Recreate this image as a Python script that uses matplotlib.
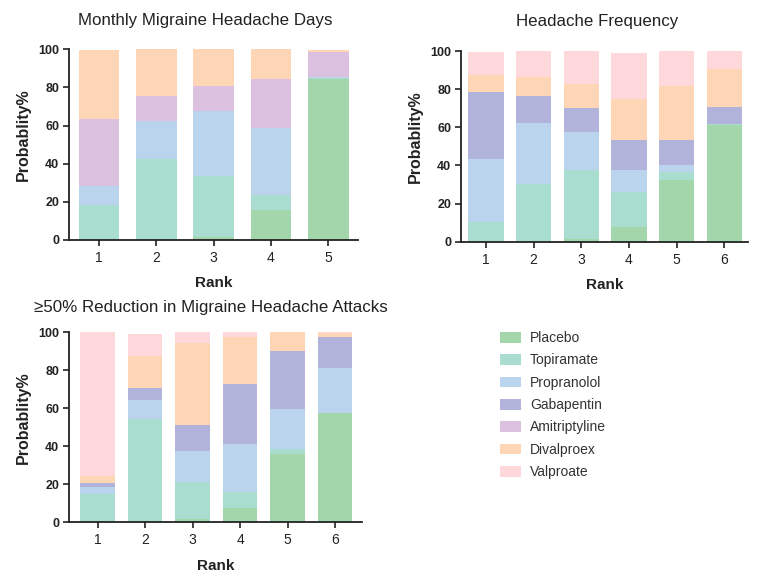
import matplotlib
matplotlib.use("Agg")
import matplotlib.pyplot as plt
from matplotlib.patches import Patch

plt.rcParams['font.family'] = ['Liberation Sans', 'DejaVu Sans']

drugs = ["Placebo", "Topiramate", "Propranolol", "Gabapentin",
         "Amitriptyline", "Divalproex", "Valproate"]
colors = {
    "Placebo": "#a3d6aa",
    "Topiramate": "#a9ddd0",
    "Propranolol": "#bad4ee",
    "Gabapentin": "#b1b3db",
    "Amitriptyline": "#dbc0e0",
    "Divalproex": "#fed6b6",
    "Valproate": "#fed8da",
}

# Monthly Migraine Headache Days (ranks 1-5)
mmd_ranks = [1, 2, 3, 4, 5]
mmd_placebo = [0, 0, 1.5, 15.5, 84.5]
mmd_topiramate = [18.5, 42.5, 32, 8, 0.5]
mmd_propranolol = [10, 20, 34, 35, 0.5]
mmd_amitriptyline = [35, 13, 13, 26, 13]
mmd_divalproex = [36, 24.5, 19.5, 15.5, 1]

# Headache Frequency (ranks 1-6)
hf_ranks = [1, 2, 3, 4, 5, 6]
hf_placebo = [0, 0, 1.2, 7.5, 32.3, 61.2]
hf_topiramate = [10.5, 30.2, 36.4, 18.7, 4.4, 0.5]
hf_propranolol = [32.9, 32.2, 19.7, 11.4, 3.5, 0.2]
hf_gabapentin = [34.9, 14.0, 13.0, 15.7, 13.1, 8.7]
hf_divalproex = [9.1, 10.1, 12.2, 21.4, 28.3, 19.8]
hf_valproate = [11.9, 13.5, 17.5, 24.4, 18.4, 9.6]

# >=50% Reduction in Migraine Headache Attacks (ranks 1-6)
rr_ranks = [1, 2, 3, 4, 5, 6]
rr_placebo = [0, 0, 1.6, 7.7, 35.8, 57.4]
rr_topiramate = [14.7, 54.6, 19.8, 8.4, 2.6, 0]
rr_propranolol = [4.1, 9.8, 16.1, 25.1, 21.1, 24.0]
rr_gabapentin = [1.7, 6.1, 13.7, 31.4, 30.9, 16.1]
rr_divalproex = [3.9, 17.2, 43.4, 25.1, 9.6, 2.0]
rr_valproate = [75.6, 11.4, 5.4, 2.3, 0, 0.5]

W, H = 757, 579
fig = plt.figure(figsize=(W / 100, H / 100), dpi=100)


def panel(rect, title, ranks, series, xlim, width, title_x, title_pad):
    ax = fig.add_axes(rect)
    bottom = [0] * len(ranks)
    for name, vals in series:
        ax.bar(ranks, vals, width=width, bottom=bottom, color=colors[name],
               edgecolor='none')
        bottom = [b + v for b, v in zip(bottom, vals)]
    ax.set_xlim(*xlim)
    ax.set_ylim(0, 100)
    ax.set_yticks([0, 20, 40, 60, 80, 100])
    ax.set_xticks(ranks)
    for s in ['top', 'right']:
        ax.spines[s].set_visible(False)
    for s in ['left', 'bottom']:
        ax.spines[s].set_linewidth(1.3)
        ax.spines[s].set_color('#222222')
    ax.tick_params(axis='both', length=4, width=1.2, color='#222222')
    ax.tick_params(axis='x', labelsize=10, labelcolor='#222222', pad=4)
    ax.tick_params(axis='y', labelsize=9, labelcolor='#222222', pad=3)
    for lab in ax.get_yticklabels():
        lab.set_fontweight('bold')
    ax.set_xlabel("Rank", fontsize=11, fontweight='bold', color='#222222',
                  labelpad=8)
    ax.set_ylabel("Probablity%", fontsize=11.5, fontweight='bold',
                  color='#222222', labelpad=5)
    ax.yaxis.label.set_y(0.553)
    ax.set_title(title, fontsize=12.2, color='#222222', pad=title_pad,
                 x=title_x)
    return ax


panel([69 / W, 1 - 240 / H, 289 / W, 190.7 / H],
      "Monthly Migraine Headache Days", mmd_ranks,
      [("Placebo", mmd_placebo), ("Topiramate", mmd_topiramate),
       ("Propranolol", mmd_propranolol), ("Amitriptyline", mmd_amitriptyline),
       ("Divalproex", mmd_divalproex)],
      (0.476, 5.52), 0.71, 0.472, 17.3)

panel([461 / W, 1 - 241.7 / H, 287 / W, 190.7 / H],
      "Headache Frequency", hf_ranks,
      [("Placebo", hf_placebo), ("Topiramate", hf_topiramate),
       ("Propranolol", hf_propranolol), ("Gabapentin", hf_gabapentin),
       ("Divalproex", hf_divalproex), ("Valproate", hf_valproate)],
      (0.475, 6.5), 0.74, 0.474, 18)

panel([69 / W, 1 - 522.3 / H, 292.7 / W, 190 / H],
      "\u226550% Reduction in Migraine Headache Attacks", rr_ranks,
      [("Placebo", rr_placebo), ("Topiramate", rr_topiramate),
       ("Propranolol", rr_propranolol), ("Gabapentin", rr_gabapentin),
       ("Divalproex", rr_divalproex), ("Valproate", rr_valproate)],
      (0.40, 6.56), 0.72, 0.485, 14.8)

handles = [Patch(facecolor=colors[d], edgecolor='none', label=d) for d in drugs]
leg = fig.legend(handles=handles, loc='upper left',
                 bbox_to_anchor=(489 / W, 1 - 320 / H), frameon=False,
                 fontsize=10, handlelength=1.5, handleheight=0.8,
                 handletextpad=0.64, labelspacing=0.6, borderpad=0.3)
for t in leg.get_texts():
    t.set_color('#333333')

fig.savefig("out.png", dpi=100)
